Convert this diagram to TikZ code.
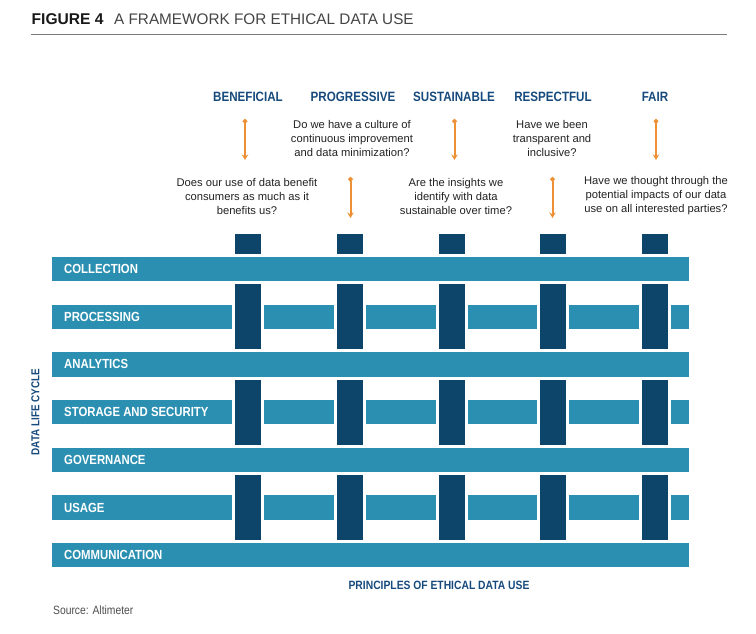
\documentclass[tikz,border=0pt]{standalone}
\usepackage{fontspec}
\setmainfont{Liberation Sans}
\newfontfamily\condsans[FakeStretch=0.86]{Liberation Sans}
\usetikzlibrary{arrows.meta}
\definecolor{barteal}{HTML}{2B8FB1}
\definecolor{pillarblue}{HTML}{0C4569}
\definecolor{headblue}{HTML}{174A7C}
\definecolor{arroworange}{HTML}{EE9136}
\definecolor{rulegray}{HTML}{7A7A7A}
\definecolor{titlegray}{HTML}{444444}
\definecolor{qtext}{HTML}{222222}

\begin{document}
\begin{tikzpicture}[x=1pt,y=-1pt,
  bar/.style={fill=barteal,draw=none},
  pillar/.style={fill=pillarblue,draw=none},
  rowlabel/.style={anchor=west,text=white,inner sep=0pt,
    font=\condsans\bfseries\fontsize{13.2}{15}\selectfont},
  principle/.style={text=headblue,inner sep=0pt,
    font=\condsans\bfseries\fontsize{13.5}{15}\selectfont},
  question/.style={align=center,text=qtext,inner sep=0pt,
    font=\fontsize{11.2}{14}\selectfont},
  probe/.style={draw=arroworange,line width=2pt,
    {Circle[length=4.5pt]}-{Stealth[length=5.5pt,width=6.5pt]}},
]
\useasboundingbox (0,0) rectangle (756,633);

% heading and rule
\node[anchor=base west,inner sep=0pt,text=black!90,
  font=\bfseries\fontsize{15.6}{18}\selectfont] (fignum) at (31.5,24) {FIGURE 4};
\node[anchor=base west,inner sep=0pt,text=titlegray,
  font=\fontsize{15.3}{18}\selectfont] (figtitle) at (114,24) {A FRAMEWORK FOR ETHICAL DATA USE};
\coordinate (ruleL) at (31,34.3);
\coordinate (ruleR) at (727,34.3);
\draw[rulegray,line width=1.3pt] (ruleL) -- (ruleR);

% row geometry: centres 269 + 47.7 k, half height 12.2
\def\halfh{12.2}
% full-width bars (woven on top of the pillars)
\foreach \k in {0,2,4,6}{
  \pgfmathsetmacro\ry{269+47.7*\k}
  \fill[bar] (52,\ry-\halfh) rectangle (689,\ry+\halfh);
}
% broken bars, interrupted by the pillars
\foreach \k in {1,3,5}{
  \pgfmathsetmacro\ry{269+47.7*\k}
  \fill[bar] (52,\ry-\halfh) rectangle (232,\ry+\halfh);
  \foreach \i in {0,...,3}{
    \pgfmathsetmacro\xa{248+101.75*\i+16}
    \pgfmathsetmacro\xb{248+101.75*(\i+1)-16}
    \fill[bar] (\xa,\ry-\halfh) rectangle (\xb,\ry+\halfh);
  }
  \fill[bar] (671,\ry-\halfh) rectangle (689,\ry+\halfh);
}
% pillars: a top cap, then a segment between each pair of full bars
\foreach \i in {0,...,4}{
  \pgfmathsetmacro\cx{248+101.75*\i}
  \fill[pillar] (\cx-13,234) rectangle (\cx+13,254);
  \foreach \k in {0,2,4}{
    \pgfmathsetmacro\ya{269+47.7*\k+\halfh+3}
    \pgfmathsetmacro\yb{269+47.7*(\k+2)-\halfh-3}
    \fill[pillar] (\cx-13,\ya) rectangle (\cx+13,\yb);
  }
}

% life-cycle stages
\node[rowlabel] (collection) at (64,269) {COLLECTION};
\node[rowlabel] (processing) at (64,316.7) {PROCESSING};
\node[rowlabel] (analytics) at (64,364.4) {ANALYTICS};
\node[rowlabel] (storage) at (64,412.1) {STORAGE AND SECURITY};
\node[rowlabel] (governance) at (64,459.8) {GOVERNANCE};
\node[rowlabel] (usage) at (64,507.5) {USAGE};
\node[rowlabel] (communication) at (64,555.2) {COMMUNICATION};

% principles
\node[principle] (beneficial) at (248,97.3) {BENEFICIAL};
\node[principle] (progressive) at (353,97.3) {PROGRESSIVE};
\node[principle] (sustainable) at (454,97.3) {SUSTAINABLE};
\node[principle] (respectful) at (553,97.3) {RESPECTFUL};
\node[principle] (fair) at (655,97.3) {FAIR};

% guiding questions
\node[question] (qbeneficial) at (247,196) {Does our use of data benefit\\consumers as much as it\\benefits us?};
\node[question] (qprogressive) at (352,138) {Do we have a culture of\\continuous improvement\\and data minimization?};
\node[question] (qsustainable) at (456,196) {Are the insights we\\identify with data\\sustainable over time?};
\node[question] (qrespectful) at (552,138) {Have we been\\transparent and\\inclusive?};
\node[question] (qfair) at (656,196) {Have we thought through the\\potential impacts of our data\\use on all interested parties?};

% orange pointers
\coordinate (a1s) at (245,119);   \coordinate (a1e) at (245,160);
\coordinate (a2s) at (350.5,177); \coordinate (a2e) at (350.5,218);
\coordinate (a3s) at (454.5,119); \coordinate (a3e) at (454.5,160);
\coordinate (a4s) at (552.5,177); \coordinate (a4e) at (552.5,218);
\coordinate (a5s) at (656,119);   \coordinate (a5e) at (656,160);
\draw[probe] (a1s) -- (a1e);
\draw[probe] (a2s) -- (a2e);
\draw[probe] (a3s) -- (a3e);
\draw[probe] (a4s) -- (a4e);
\draw[probe] (a5s) -- (a5e);

% axis captions
\node[rotate=90,text=headblue,inner sep=0pt,
  font=\condsans\bfseries\fontsize{11.5}{13}\selectfont] (lifecycle) at (35.5,412) {DATA LIFE CYCLE};
\node[text=headblue,inner sep=0pt,
  font=\condsans\bfseries\fontsize{12}{14}\selectfont] (principles) at (439,585.7) {PRINCIPLES OF ETHICAL DATA USE};
\node[anchor=west,inner sep=0pt,text=black!70,
  font=\condsans\fontsize{12}{14}\selectfont] (source) at (53,610.7) {Source: Altimeter};
\end{tikzpicture}
\end{document}
